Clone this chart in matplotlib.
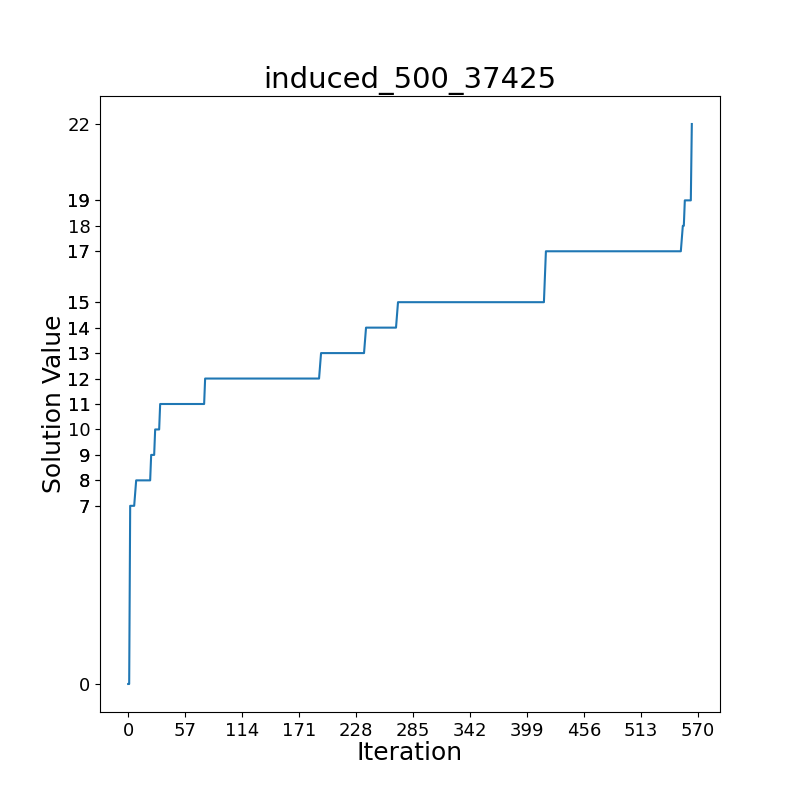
import matplotlib
matplotlib.use("Agg")
import matplotlib.pyplot as plt

# vertices of the solution trace (iteration, best value)
iterations = [0, 1, 2, 6, 8, 22, 23, 26, 27, 31, 32, 76, 77, 191, 193, 236, 238,
              268, 270, 416, 418, 553, 555, 556, 557, 563, 564]
values = [0, 0, 7, 7, 8, 8, 9, 9, 10, 10, 11, 11, 12, 12, 13, 13, 14,
          14, 15, 15, 17, 17, 18, 18, 19, 19, 22]
x_ticks = [0, 57, 114, 171, 228, 285, 342, 399, 456, 513, 570]
# y tick labels that come out darker (drawn twice) in the original
dark_yticks = [7, 8, 9, 11, 12, 13, 14, 15, 17, 19]
title = "induced_500_37425"

fig, ax = plt.subplots(figsize=(8, 8), dpi=100)
ax.plot(iterations, values, color="tab:blue")

ax.set_xticks(x_ticks)
ax.set_yticks(sorted(set(values)))
ax.tick_params(labelsize=13)

ax.set_xlabel("Iteration", fontsize=18, labelpad=1)
ax.set_ylabel("Solution Value", fontsize=18, labelpad=1)
ax.set_title(title, fontsize=21)

# overlay axis to double-draw some y tick labels
ax2 = fig.add_axes(ax.get_position(), frameon=False)
ax2.patch.set_visible(False)
ax2.set_ylim(ax.get_ylim())
ax2.set_xticks([])
ax2.set_yticks(dark_yticks)
ax2.tick_params(labelsize=13)

fig.savefig("out.png")
